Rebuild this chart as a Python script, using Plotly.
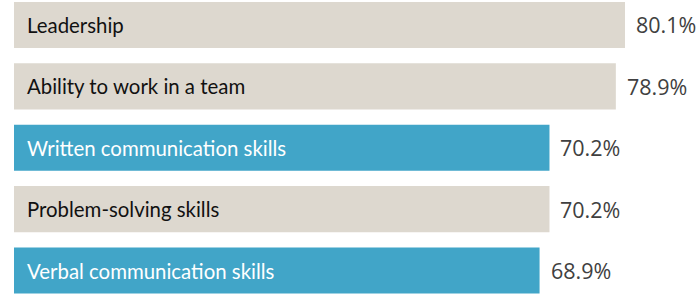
import plotly.graph_objects as go

categories = ["Leadership", "Ability to work in a team", "Written communication skills",
              "Problem-solving skills", "Verbal communication skills"]
values = [80.1, 78.9, 70.2, 70.2, 68.9]
value_labels = ["80.1%", "78.9%", "70.2%", "70.2%", "68.9%"]
highlight = [False, False, True, False, True]

BEIGE = "#DDD8CF"
BLUE = "#41A5C8"

ypos = list(range(len(categories)))
colors = [BLUE if h else BEIGE for h in highlight]

fig = go.Figure()
fig.add_trace(go.Bar(
    x=values, y=ypos, orientation="h",
    marker=dict(color=colors, line=dict(width=0)),
    width=0.75, hoverinfo="skip",
))

for i, (cat, v, lab, h) in enumerate(zip(categories, values, value_labels, highlight)):
    fig.add_annotation(x=0, y=i, text=cat, showarrow=False, xanchor="left", yanchor="middle",
                       xshift=11, font=dict(family="Lato", size=20.4,
                                            color="white" if h else "#111111"))
    fig.add_annotation(x=v, y=i, text=lab, showarrow=False, xanchor="left", yanchor="middle",
                       xshift=9, font=dict(family="Open Sans", size=21.5, color="#404040"))

fig.update_layout(
    width=698, height=298,
    margin=dict(l=14, r=0, t=0, b=0),
    paper_bgcolor="white", plot_bgcolor="white",
    showlegend=False,
    xaxis=dict(range=[0, 89.67], visible=False, fixedrange=True),
    yaxis=dict(range=[4.448, -0.407], visible=False, fixedrange=True),
)

fig.write_html("out.html")
